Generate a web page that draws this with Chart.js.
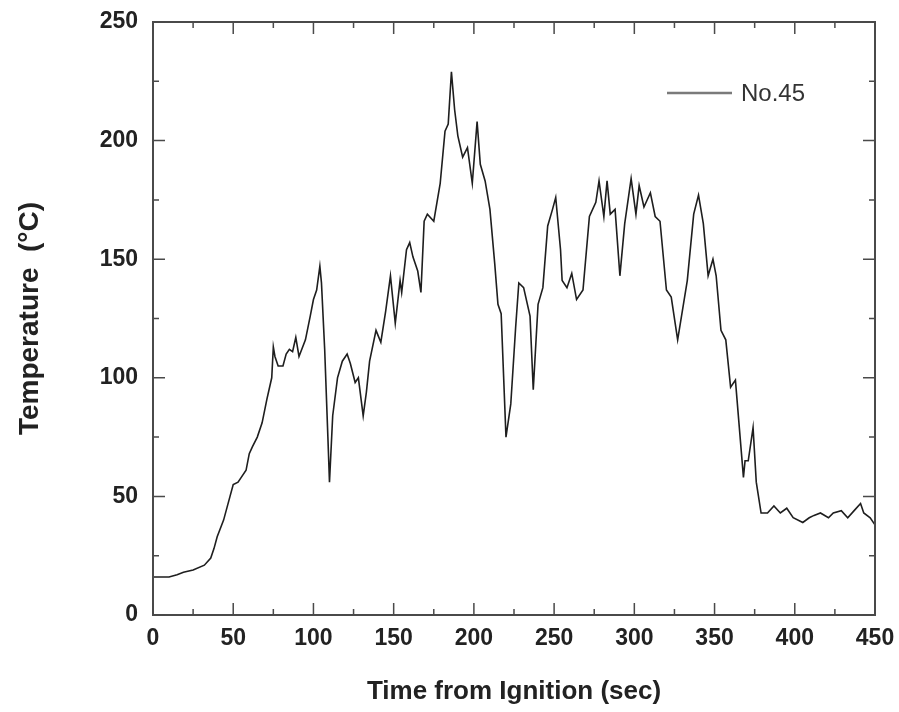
<!DOCTYPE html>
<html>
<head>
<meta charset="utf-8">
<title>Temperature No.45</title>
<script src="https://cdn.jsdelivr.net/npm/chart.js@4.4.1/dist/chart.umd.min.js"></script>
<style>
    html, body { margin: 0; padding: 0; background: #fff; }
    .chart-box { position: relative; width: 899px; height: 712px; }
</style>
</head>
<body>
<div class="chart-box"><canvas id="tempChart"></canvas></div>
<script>
// Values
const timeSec = [0, 5, 10, 15, 19, 25, 32, 36, 38, 40, 44, 48, 50, 53, 55, 58, 60, 62, 65, 68,
    71, 74, 75, 76, 78, 81, 83, 85, 87, 89, 91, 95, 98, 100, 102, 104, 105, 107, 109, 110,
    112, 115, 118, 121, 123, 126, 128, 131, 133, 135, 139, 142, 145, 148, 151, 154, 155, 158, 160, 162,
    165, 167, 169, 171, 175, 179, 182, 184, 186, 188, 190, 193, 196, 199, 202, 204, 207, 210, 213, 215,
    217, 220, 223, 226, 228, 231, 235, 237, 240, 243, 246, 249, 251, 254, 255, 258, 261, 264, 268, 272,
    276, 278, 281, 283, 285, 288, 291, 294, 298, 301, 303, 306, 310, 313, 316, 320, 323, 327, 333, 337,
    340, 343, 346, 349, 351, 354, 357, 360, 363, 368, 369, 371, 374, 376, 379, 383, 387, 391, 395, 399,
    405, 409, 412, 416, 421, 424, 429, 433, 437, 441, 443, 447, 450];
const tempC = [16, 16, 16, 17, 18, 19, 21, 24, 28, 33, 40, 50, 55, 56, 58, 61, 68, 71, 75, 81,
    91, 100, 113, 109, 105, 105, 110, 112, 111, 117, 109, 116, 126, 133, 137, 147, 140, 112, 75, 56,
    84, 100, 107, 110, 106, 98, 100, 84, 94, 107, 120, 115, 128, 143, 123, 141, 136, 154, 157, 151,
    145, 136, 166, 169, 166, 182, 204, 207, 229, 213, 202, 193, 197, 182, 208, 190, 183, 171, 148, 131,
    127, 75, 89, 121, 140, 138, 126, 95, 131, 138, 164, 171, 176, 154, 141, 138, 144, 133, 137, 168,
    174, 183, 168, 183, 169, 171, 143, 165, 184, 169, 181, 172, 178, 168, 166, 137, 134, 116, 141, 169,
    177, 165, 143, 150, 143, 120, 116, 96, 99, 58, 65, 65, 79, 56, 43, 43, 46, 43, 45, 41,
    39, 41, 42, 43, 41, 43, 44, 41, 44, 47, 43, 41, 38];
const xTicks = [0, 50, 100, 150, 200, 250, 300, 350, 400, 450];
const yTicks = [0, 50, 100, 150, 200, 250];
const seriesName = 'No.45';

const AXIS_COLOR = '#4a4a4a';
const FONT = '"Liberation Sans", Arial, Helvetica, sans-serif';

// Closed frame with inward major/minor ticks on all four sides
const framePlugin = {
    id: 'frame',
    afterDraw(chart) {
        const { ctx, chartArea: a, scales } = chart;
        const xs = scales.x, ys = scales.y;
        ctx.save();
        ctx.strokeStyle = AXIS_COLOR;
        ctx.lineWidth = 2;
        ctx.strokeRect(a.left, a.top, a.right - a.left, a.bottom - a.top);
        ctx.lineWidth = 1.5;
        ctx.beginPath();
        for (let i = 0; i < xTicks.length; i++) {
            const v = xTicks[i];
            const px = xs.getPixelForValue(v);
            ctx.moveTo(px, a.bottom); ctx.lineTo(px, a.bottom - 12);
            ctx.moveTo(px, a.top); ctx.lineTo(px, a.top + 12);
            if (i < xTicks.length - 1) {
                const mx = xs.getPixelForValue((v + xTicks[i + 1]) / 2);
                ctx.moveTo(mx, a.bottom); ctx.lineTo(mx, a.bottom - 6);
                ctx.moveTo(mx, a.top); ctx.lineTo(mx, a.top + 6);
            }
        }
        for (let i = 0; i < yTicks.length; i++) {
            const v = yTicks[i];
            const py = ys.getPixelForValue(v);
            ctx.moveTo(a.left, py); ctx.lineTo(a.left + 12, py);
            ctx.moveTo(a.right, py); ctx.lineTo(a.right - 12, py);
            if (i < yTicks.length - 1) {
                const my = ys.getPixelForValue((v + yTicks[i + 1]) / 2);
                ctx.moveTo(a.left, my); ctx.lineTo(a.left + 6, my);
                ctx.moveTo(a.right, my); ctx.lineTo(a.right - 6, my);
            }
        }
        ctx.stroke();

        // Legend inside the plot, top right
        const ly = a.top + 71;
        ctx.strokeStyle = '#7a7a7a';
        ctx.lineWidth = 2.5;
        ctx.beginPath();
        ctx.moveTo(667, ly); ctx.lineTo(732, ly);
        ctx.stroke();
        ctx.fillStyle = '#333';
        ctx.font = '24px ' + FONT;
        ctx.textBaseline = 'middle';
        ctx.textAlign = 'left';
        ctx.fillText(seriesName, 741, ly + 1);
        ctx.restore();
    }
};

// Drop the extra room Chart.js reserves for edge labels
function clearScalePadding(scale) {
    scale.paddingTop = 0;
    scale.paddingBottom = 0;
    scale.paddingLeft = 0;
    scale.paddingRight = 0;
}

function initializeChart() {
    const ctx = document.getElementById('tempChart').getContext('2d');
    const points = timeSec.map((t, i) => ({ x: t, y: tempC[i] }));

    new Chart(ctx, {
        type: 'line',
        data: {
            datasets: [{
                label: seriesName,
                data: points,
                borderColor: '#1e1e1e',
                borderWidth: 1.6,
                pointRadius: 0,
                tension: 0,
                fill: false
            }]
        },
        options: {
            responsive: true,
            maintainAspectRatio: false,
            animation: false,
            layout: { padding: { left: 0, right: 24, top: 22, bottom: 0 } },
            plugins: {
                legend: { display: false },
                tooltip: { enabled: false }
            },
            scales: {
                x: {
                    type: 'linear',
                    min: 0,
                    max: 450,
                    afterBuildTicks: (scale) => { scale.ticks = xTicks.map(v => ({ value: v })); },
                    afterFit: (scale) => { scale.height = 97; clearScalePadding(scale); },
                    grid: { display: false, drawTicks: false },
                    border: { display: false },
                    ticks: {
                        padding: 10,
                        maxRotation: 0,
                        color: '#222',
                        font: { family: FONT, size: 23, weight: 'bold' }
                    },
                    title: {
                        display: true,
                        text: 'Time from Ignition (sec)',
                        color: '#222',
                        padding: { top: 0, bottom: 5 },
                        font: { family: FONT, size: 26, weight: 'bold' }
                    }
                },
                y: {
                    type: 'linear',
                    min: 0,
                    max: 250,
                    afterBuildTicks: (scale) => { scale.ticks = yTicks.map(v => ({ value: v })); },
                    afterFit: (scale) => { scale.width = 153; clearScalePadding(scale); },
                    grid: { display: false, drawTicks: false },
                    border: { display: false },
                    ticks: {
                        padding: 15,
                        color: '#222',
                        font: { family: FONT, size: 23, weight: 'bold' }
                    },
                    title: {
                        display: true,
                        text: 'Temperature  (\u00B0C)',
                        color: '#222',
                        padding: { top: 13, bottom: 0 },
                        font: { family: FONT, size: 28, weight: 'bold' }
                    }
                }
            }
        },
        plugins: [framePlugin]
    });
}

document.addEventListener('DOMContentLoaded', () => {
    initializeChart();
});
</script>
</body>
</html>
